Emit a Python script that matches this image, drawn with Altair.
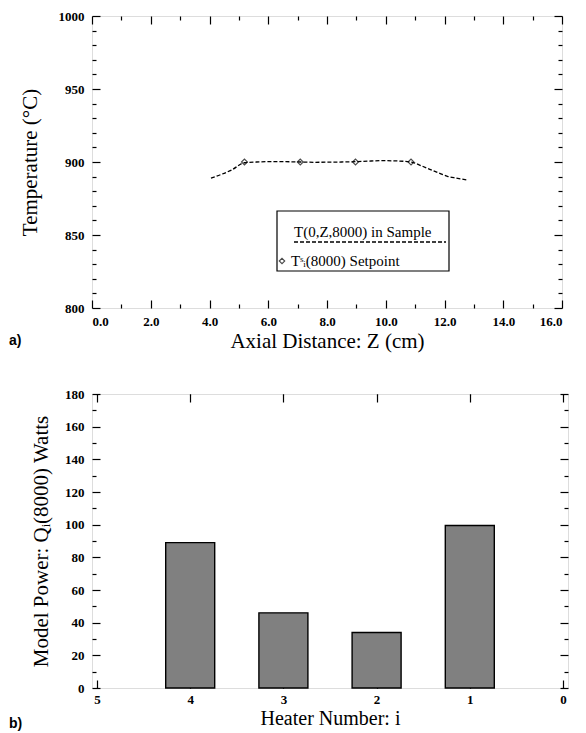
import altair as alt
import pandas as pd

# ---------------- data ----------------
# panel a) : temperature profile in the sample
z_curve = [4.05, 4.4, 4.75, 5.19, 5.6, 6.1, 6.6, 7.09, 7.6, 8.1, 8.5, 8.97,
           9.4, 9.9, 10.4, 10.86, 11.2, 11.5, 11.8, 12.1, 12.4, 12.75]
t_curve = [889.0, 891.5, 894.5, 899.5, 900.0, 900.3, 900.2, 900.0, 899.8, 899.9, 900.0, 900.2,
           900.6, 900.9, 900.7, 900.0, 897.5, 895.0, 892.5, 890.2, 889.0, 887.8]
z_set = [5.19, 7.09, 8.97, 10.86]
t_set = [900, 900, 900, 900]

# panel b) : heater powers
heater = [4, 3, 2, 1]
power = [89, 46, 34, 99.5]

# axis ticks
xa_major = [0, 2, 4, 6, 8, 10, 12, 14, 16]
xa_minor = [1, 3, 5, 7, 9, 11, 13, 15]
ya_major = [800, 850, 900, 950, 1000]
ya_minor = [810, 820, 830, 840, 860, 870, 880, 890, 910, 920, 930, 940, 960, 970, 980, 990]
xb_major = [0, 1, 2, 3, 4, 5]
yb_major = [0, 20, 40, 60, 80, 100, 120, 140, 160, 180]
yb_minor = [10, 30, 50, 70, 90, 110, 130, 150, 170]

SERIF = "Liberation Serif"
SANS = "Liberation Sans"
MAJ, MIN = 8, 4
LFS = 13

curve_df = pd.DataFrame({"Z": z_curve, "T": t_curve})
set_df = pd.DataFrame({"Z": z_set, "T": t_set})
bar_df = pd.DataFrame({"heater": heater, "power": power})
one = pd.DataFrame({"k": [0]})


def tick_axis(orient, values, size):
    return alt.Axis(orient=orient, values=values, tickSize=size, offset=-size,
                    domain=False, labels=False, grid=False, tickColor="black",
                    tickWidth=1.2)


def ghost(df, xf, yf, xs, ys, xaxis, yaxis):
    return alt.Chart(df).mark_point(opacity=0).encode(
        x=alt.X(xf, type="quantitative", scale=xs, axis=xaxis, title=None),
        y=alt.Y(yf, type="quantitative", scale=ys, axis=yaxis, title=None),
    )


def main_axis(orient, values, fmt, title, lpad, tpad, tfs=21):
    return alt.Axis(
        orient=orient, values=values, format=fmt, tickSize=MAJ, offset=-MAJ,
        domain=False, grid=False, tickColor="black", tickWidth=1.2,
        labelPadding=lpad, labelOverlap=False, labelFont=SERIF, labelFontWeight="bold",
        labelFontSize=LFS, labelColor="black",
        title=title, titleFont=SERIF, titleFontSize=tfs,
        titleFontWeight="normal", titleColor="black", titlePadding=tpad)


# ---------------- panel a ----------------
xs_a = alt.Scale(domain=[0, 16], nice=False, zero=False)
ys_a = alt.Scale(domain=[800, 1000], nice=False, zero=False)

a_line = alt.Chart(curve_df).mark_line(
    color="black", strokeDash=[4, 2], strokeWidth=1.3, interpolate="monotone"
).encode(
    x=alt.X("Z:Q", scale=xs_a, axis=main_axis("bottom", xa_major, ".1f", "Axial Distance: Z (cm)", 7, 2)),
    y=alt.Y("T:Q", scale=ys_a, axis=main_axis("left", ya_major, "d", "Temperature (°C)", 8, 18)),
)

a_pts = alt.Chart(set_df).mark_point(
    shape="diamond", filled=False, size=35, color="black", strokeWidth=1.1
).encode(
    x=alt.X("Z:Q", scale=xs_a, axis=None),
    y=alt.Y("T:Q", scale=ys_a, axis=None),
)

a_g1 = ghost(curve_df, "Z", "T", xs_a, ys_a, tick_axis("top", xa_major, MAJ), tick_axis("right", ya_major, MAJ))
a_g2 = ghost(curve_df, "Z", "T", xs_a, ys_a, tick_axis("bottom", xa_minor, MIN), tick_axis("left", ya_minor, MIN))
a_g3 = ghost(curve_df, "Z", "T", xs_a, ys_a, tick_axis("top", xa_minor, MIN), tick_axis("right", ya_minor, MIN))

# legend box (annotation)
leg_box = alt.Chart(one).mark_rect(fill="white", stroke="black", strokeWidth=1.2).encode(
    x=alt.value(185), x2=alt.value(357), y=alt.value(195), y2=alt.value(255))
leg_t1 = alt.Chart(one).mark_text(
    text="T(0,Z,8000) in Sample", font=SERIF, fontSize=15, align="left", baseline="middle", color="black"
).encode(x=alt.value(202), y=alt.value(216))
leg_rule = alt.Chart(one).mark_rule(color="black", strokeDash=[4, 2], strokeWidth=1.3).encode(
    x=alt.value(202), x2=alt.value(354), y=alt.value(226))
leg_pt = alt.Chart(one).mark_point(shape="diamond", filled=False, size=30, color="black", strokeWidth=1.1).encode(
    x=alt.value(190), y=alt.value(245))
leg_t2 = alt.Chart(one).mark_text(
    text="Tˢᵢ(8000) Setpoint", font=SERIF, fontSize=15, align="left", baseline="middle", color="black"
).encode(x=alt.value(199), y=alt.value(245))

lab_a = alt.Chart(one).mark_text(
    text="a)", font=SANS, fontSize=14, fontWeight="bold", align="left", baseline="middle", color="black"
).encode(x=alt.value(-83), y=alt.value(325))

panel_a = alt.layer(
    a_g1, a_g2, a_g3, a_line, a_pts, leg_box, leg_t1, leg_rule, leg_pt, leg_t2, lab_a
).resolve_axis(x="independent", y="independent").properties(width=470, height=292)

# ---------------- panel b ----------------
xs_b = alt.Scale(domain=[5, 0], nice=False, zero=False)
ys_b = alt.Scale(domain=[0, 180], nice=False)

b_bars = alt.Chart(bar_df).mark_bar(
    size=49, fill="#808080", stroke="black", strokeWidth=1.4
).encode(
    x=alt.X("heater:Q", scale=xs_b, axis=main_axis("bottom", xb_major, "d", "Heater Number: i", 5, 2, 20)),
    y=alt.Y("power:Q", scale=ys_b, axis=main_axis("left", yb_major, "d", "Model Power: Qᵢ(8000) Watts", 8, 13)),
)

b_g1 = ghost(bar_df, "heater", "power", xs_b, ys_b, tick_axis("top", xb_major, MAJ), tick_axis("right", yb_major, MAJ))
b_g2 = ghost(bar_df, "heater", "power", xs_b, ys_b, tick_axis("top", xb_major, 1), tick_axis("left", yb_minor, MIN))
b_g3 = ghost(bar_df, "heater", "power", xs_b, ys_b, tick_axis("bottom", xb_major, 1), tick_axis("right", yb_minor, MIN))

lab_b = alt.Chart(one).mark_text(
    text="b)", font=SANS, fontSize=14, fontWeight="bold", align="left", baseline="middle", color="black"
).encode(x=alt.value(-83), y=alt.value(330))

panel_b = alt.layer(
    b_g1, b_g2, b_g3, b_bars, lab_b
).resolve_axis(x="independent", y="independent").properties(width=476, height=294)

chart = alt.vconcat(panel_a, panel_b, spacing=35).properties(
    padding={"left": 0, "top": 1, "right": 5, "bottom": 0}
).configure_view(stroke="black", strokeWidth=1.6).configure(background="white")

chart.save("out.html", embed_options={"renderer": "svg", "actions": False})
